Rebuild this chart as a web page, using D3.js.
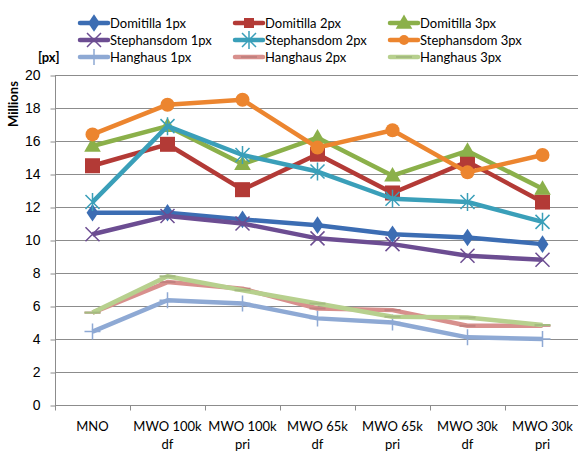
<!DOCTYPE html>
<html>
<head>
<meta charset="utf-8">
<script src="https://cdn.jsdelivr.net/npm/d3@7"></script>
<style>
  body { margin: 0; background: #fff; }
  svg { font-family: Lato, "Open Sans", sans-serif; }
</style>
</head>
<body>
<div id="chart"></div>
<script>
// categories (two-line labels)
var categories = [["MNO"], ["MWO 100k", "df"], ["MWO 100k", "pri"], ["MWO 65k", "df"],
  ["MWO 65k", "pri"], ["MWO 30k", "df"], ["MWO 30k", "pri"]];

var seriesNames = ["Domitilla 1px", "Domitilla 2px", "Domitilla 3px",
  "Stephansdom 1px", "Stephansdom 2px", "Stephansdom 3px",
  "Hanghaus 1px", "Hanghaus 2px", "Hanghaus 3px"];

var domitilla1 = [11.65, 11.65, 11.25, 10.9, 10.35, 10.15, 9.75];
var domitilla2 = [14.5, 15.8, 13.05, 15.2, 12.85, 14.75, 12.3];
var domitilla3 = [15.7, 16.9, 14.6, 16.2, 13.9, 15.4, 13.1];
var stephansdom1 = [10.35, 11.45, 11.0, 10.1, 9.75, 9.05, 8.8];
var stephansdom2 = [12.3, 16.9, 15.15, 14.15, 12.5, 12.3, 11.1];
var stephansdom3 = [16.4, 18.2, 18.5, 15.6, 16.65, 14.1, 15.15];
var hanghaus1 = [4.45, 6.35, 6.15, 5.25, 5.0, 4.1, 4.0];
var hanghaus2 = [5.6, 7.45, 7.05, 5.85, 5.75, 4.8, 4.8];
var hanghaus3 = [5.6, 7.8, 6.95, 6.15, 5.35, 5.3, 4.85];

var yTicks = [0, 2, 4, 6, 8, 10, 12, 14, 16, 18, 20];

var colors = ["#3c6db3", "#b33a36", "#8bb04a", "#6c4d92", "#3a9fb9", "#ec852f",
  "#8ea9d4", "#d8908d", "#b7d08e"];
var markers = ["diamond", "square", "triangle", "x", "star", "circle", "plus", "dash", "dash"];

var values = [domitilla1, domitilla2, domitilla3, stephansdom1, stephansdom2,
  stephansdom3, hanghaus1, hanghaus2, hanghaus3];

var width = 578, height = 451;
var margin = {left: 55, right: 0, top: 75, bottom: 46};

var svg = d3.select("#chart").append("svg")
  .attr("width", width)
  .attr("height", height);

var x = d3.scaleBand()
  .domain(d3.range(categories.length))
  .range([margin.left, margin.left + 75 * categories.length]);

var y = d3.scaleLinear()
  .domain([0, 20])
  .range([height - margin.bottom, margin.top]);

// gridlines
svg.append("g")
  .selectAll("line")
  .data(yTicks.slice(1))
  .enter().append("line")
  .attr("x1", margin.left)
  .attr("x2", width)
  .attr("y1", function (d) { return Math.round(y(d)) + 0.5; })
  .attr("y2", function (d) { return Math.round(y(d)) + 0.5; })
  .attr("stroke", "#8c8c8c")
  .attr("stroke-width", 1);

// y axis
var yAxis = svg.append("g")
  .attr("transform", "translate(" + (margin.left + 0.5) + ",0.5)")
  .call(d3.axisLeft(y).tickValues(yTicks).tickSize(5).tickPadding(10));
yAxis.selectAll("text").attr("font-size", 14).attr("fill", "#000");
yAxis.selectAll("line, path").attr("stroke", "#8c8c8c");
yAxis.select(".domain").attr("d", "M0," + y(20) + "V" + y(0));

// x axis
var xAxisY = Math.round(y(0)) + 0.5;
svg.append("line")
  .attr("x1", margin.left).attr("x2", width)
  .attr("y1", xAxisY).attr("y2", xAxisY)
  .attr("stroke", "#8c8c8c");
svg.append("g")
  .selectAll("line")
  .data(d3.range(categories.length + 1))
  .enter().append("line")
  .attr("x1", function (i) { return Math.round(margin.left + i * x.bandwidth()) + 0.5; })
  .attr("x2", function (i) { return Math.round(margin.left + i * x.bandwidth()) + 0.5; })
  .attr("y1", xAxisY).attr("y2", xAxisY + 5)
  .attr("stroke", "#8c8c8c");

var catLabels = svg.append("g")
  .selectAll("text")
  .data(categories)
  .enter().append("text")
  .attr("x", function (d, i) { return x(i) + x.bandwidth() / 2; })
  .attr("y", 431)
  .attr("text-anchor", "middle")
  .attr("font-size", 13);
catLabels.selectAll("tspan")
  .data(function (d) { return d; })
  .enter().append("tspan")
  .attr("x", function () { return d3.select(this.parentNode).attr("x"); })
  .attr("dy", function (d, i) { return i === 0 ? 0 : 18; })
  .text(function (d) { return d; });

// axis title
svg.append("text")
  .attr("transform", "translate(18,104) rotate(-90)")
  .attr("text-anchor", "middle")
  .attr("font-size", 13)
  .attr("font-weight", "bold")
  .text("Millions");

function drawMarker(g, type, color, cx, cy) {
  if (type === "diamond") {
    g.append("path").attr("d", d3.symbol(d3.symbolDiamond, 100)())
      .attr("transform", "translate(" + cx + "," + cy + ") scale(1.1,0.95)")
      .attr("fill", color);
  } else if (type === "square") {
    g.append("rect").attr("x", cx - 7.5).attr("y", cy - 7.5)
      .attr("width", 15).attr("height", 15).attr("fill", color);
  } else if (type === "triangle") {
    g.append("path").attr("d", d3.symbol(d3.symbolTriangle, 120)())
      .attr("transform", "translate(" + cx + "," + (cy + 1) + ")")
      .attr("fill", color);
  } else if (type === "circle") {
    g.append("circle").attr("cx", cx).attr("cy", cy).attr("r", 7).attr("fill", color);
  } else if (type === "x") {
    g.append("path").attr("d", "M-7,-7L7,7M-7,7L7,-7")
      .attr("transform", "translate(" + cx + "," + cy + ")")
      .attr("stroke", color).attr("stroke-width", 1.5).attr("fill", "none");
  } else if (type === "star") {
    g.append("path").attr("d", "M-7,-7L7,7M-7,7L7,-7M0,-9V9")
      .attr("transform", "translate(" + cx + "," + cy + ")")
      .attr("stroke", color).attr("stroke-width", 1.5).attr("fill", "none");
  } else if (type === "plus") {
    g.append("path").attr("d", "M-8,0H8M0,-8V8")
      .attr("transform", "translate(" + cx + "," + cy + ")")
      .attr("stroke", color).attr("stroke-width", 1.5).attr("fill", "none");
  } else if (type === "dash") {
    g.append("path").attr("d", "M-8,0H8")
      .attr("transform", "translate(" + cx + "," + cy + ")")
      .attr("stroke", d3.color(color).darker(0.3)).attr("stroke-width", 2).attr("fill", "none");
  }
}

var line = d3.line()
  .x(function (d, i) { return x(i) + x.bandwidth() / 2; })
  .y(function (d) { return y(d); });

values.forEach(function (vals, s) {
  var g = svg.append("g");
  g.append("path")
    .attr("d", line(vals))
    .attr("fill", "none")
    .attr("stroke", colors[s])
    .attr("stroke-width", 4.5)
    .attr("stroke-linejoin", "round");
  vals.forEach(function (v, i) {
    drawMarker(g, markers[s], colors[s], x(i) + x.bandwidth() / 2, y(v));
  });
});

// legend
var legendX = [80, 235, 390];
var legendY = [23, 40, 57];
var legend = svg.append("g");
seriesNames.forEach(function (name, s) {
  var lx = legendX[s % 3], ly = legendY[Math.floor(s / 3)];
  var g = legend.append("g");
  g.append("line")
    .attr("x1", lx).attr("x2", lx + 28)
    .attr("y1", ly).attr("y2", ly)
    .attr("stroke", colors[s]).attr("stroke-width", 4.5)
    .attr("stroke-linecap", "round");
  drawMarker(g, markers[s], colors[s], lx + 14, ly);
  g.append("text")
    .attr("x", lx + 30).attr("y", ly + 5)
    .attr("font-size", 13)
    .text(name);
});
legend.selectAll("rect").attr("width", 10).attr("height", 10)
  .attr("transform", "translate(2.5,2.5)");
legend.selectAll("circle").attr("r", 5);

svg.append("text")
  .attr("x", 38).attr("y", 62)
  .attr("font-size", 13)
  .attr("font-weight", "bold")
  .text("[px]");
</script>
</body>
</html>
